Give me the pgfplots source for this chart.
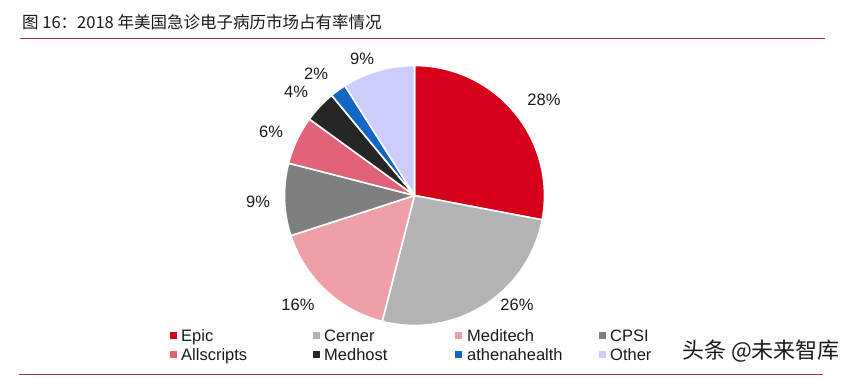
\documentclass[border=0pt]{standalone}
\usepackage{pgfplots}
\usepackage{pgfplotstable}
\pgfplotsset{compat=1.18}
\usepackage{fontspec}
\setmainfont{Liberation Sans}
\newfontfamily\cjk{Noto Sans CJK SC}
\definecolor{pc0}{HTML}{D7001B}
\definecolor{pc1}{HTML}{B3B3B3}
\definecolor{pc2}{HTML}{EE9FA8}
\definecolor{pc3}{HTML}{7F7F7F}
\definecolor{pc4}{HTML}{E0637A}
\definecolor{pc5}{HTML}{262626}
\definecolor{pc6}{HTML}{1266C4}
\definecolor{pc7}{HTML}{CCCCFF}
\definecolor{rule}{HTML}{A03035}
\definecolor{txt}{HTML}{1A1A1A}
\pgfplotstableread{
name value
Epic 28
Cerner 26
Meditech 16
CPSI 9
Allscripts 6
Medhost 4
athenahealth 2
Other 9
}\pietable
\newcommand\computeangles{%
  \xdef\cum{90}%
  \foreach \i in {0,...,7}{%
    \pgfplotstablegetelem{\i}{value}\of\pietable
    \pgfmathsetmacro\ea{\cum-3.6*\pgfplotsretval}%
    \expandafter\xdef\csname sa\i\endcsname{\cum}%
    \expandafter\xdef\csname ea\i\endcsname{\ea}%
    \xdef\cum{\ea}%
  }}
\begin{document}
\begin{tikzpicture}
\computeangles
\useasboundingbox (0,0) rectangle (850pt,376pt);
\begin{axis}[
  at={(0,0)}, anchor=south west,
  scale only axis, width=850pt, height=376pt,
  xmin=0, xmax=850, ymin=0, ymax=376,
  hide axis, clip=false]
\pgfplotsinvokeforeach{0,...,7}{%
  \edef\temp{\noexpand\fill[pc#1, draw=white, line width=1.6pt, line join=round]
    (axis cs:414.5,180.5) -- ++(\csname sa#1\endcsname:130pt)
    arc[start angle=\csname sa#1\endcsname, end angle=\csname ea#1\endcsname, radius=130pt] -- cycle;}%
  \temp
}
% title and rules
\node[anchor=west, font=\cjk\fontsize{16.5}{20}\selectfont, text=txt, inner sep=0pt] at (axis cs:22,354) {图 16：2018 年美国急诊电子病历市场占有率情况};
\draw[rule, line width=1.2pt] (axis cs:20,337.5) -- (axis cs:825,337.5);
\draw[rule, line width=1.6pt] (axis cs:19,1.5) -- (axis cs:823,1.5);
% percentage labels
\begin{scope}[every node/.style={font=\fontsize{16.5}{18}\selectfont, text=txt, inner sep=0pt}]
\node at (axis cs:544,276) {28\%};
\node at (axis cs:517,71) {26\%};
\node at (axis cs:298,71) {16\%};
\node at (axis cs:258,174) {9\%};
\node at (axis cs:271,244) {6\%};
\node at (axis cs:296,284) {4\%};
\node at (axis cs:316,302) {2\%};
\node at (axis cs:362,317) {9\%};
\end{scope}
% legend
\begin{scope}[every node/.style={font=\fontsize{16.5}{18}\selectfont, text=txt, inner sep=0pt, anchor=base west}]
\fill[pc0] (axis cs:170,37) rectangle (axis cs:177,44); \node at (axis cs:181,34.5) {Epic};
\fill[pc1] (axis cs:313,37) rectangle (axis cs:320,44); \node at (axis cs:324,34.5) {Cerner};
\fill[pc2] (axis cs:455,37) rectangle (axis cs:462,44); \node at (axis cs:467,34.5) {Meditech};
\fill[pc3] (axis cs:599,37) rectangle (axis cs:606,44); \node at (axis cs:610,34.5) {CPSI};
\fill[pc4] (axis cs:170,18) rectangle (axis cs:177,25); \node at (axis cs:181,15.5) {Allscripts};
\fill[pc5] (axis cs:313,18) rectangle (axis cs:320,25); \node at (axis cs:324,15.5) {Medhost};
\fill[pc6] (axis cs:455,18) rectangle (axis cs:462,25); \node at (axis cs:467,15.5) {athenahealth};
\fill[pc7] (axis cs:599,18) rectangle (axis cs:606,25); \node at (axis cs:610,15.5) {Other};
\end{scope}
% watermark
\node[anchor=west, font=\cjk\fontsize{22}{24}\selectfont, text=txt, inner sep=0pt] at (axis cs:682,25) {头条 @未来智库};
\end{axis}
\end{tikzpicture}
\end{document}
